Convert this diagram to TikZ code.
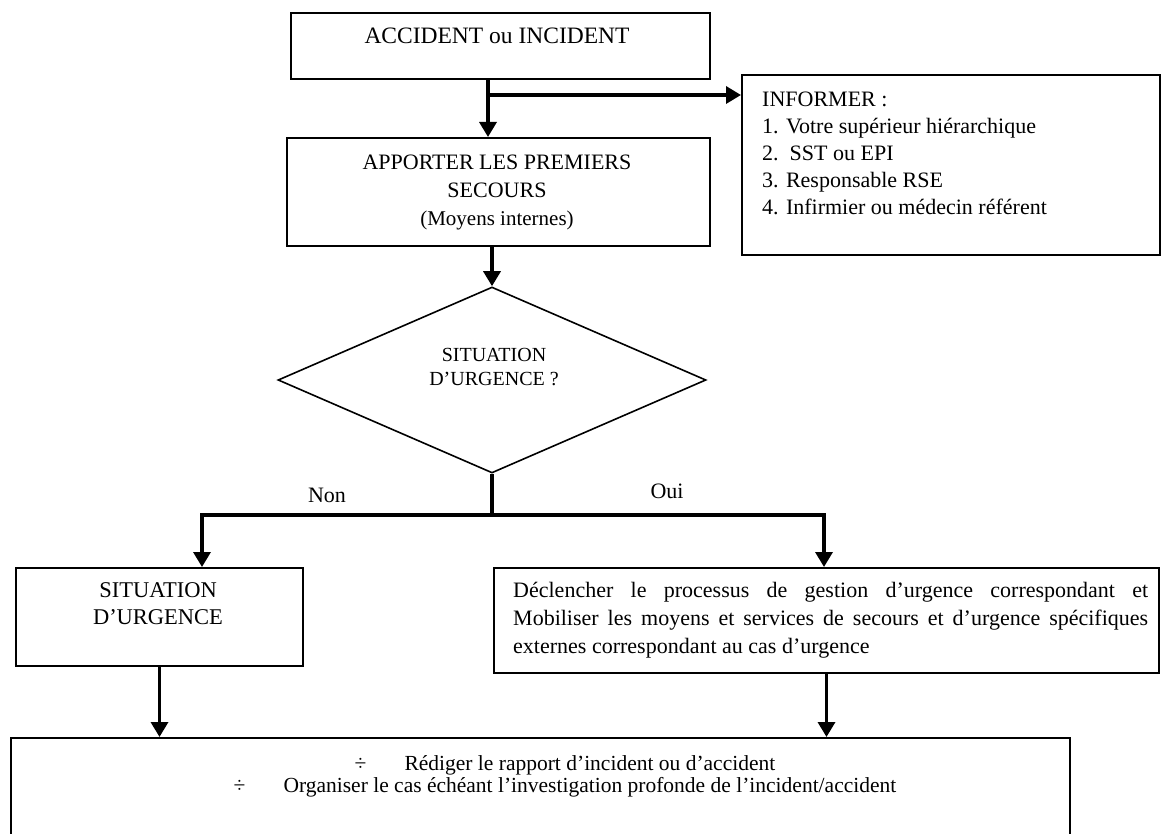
\documentclass[tikz,border=0pt]{standalone}
\usepackage{fontspec}
\setmainfont{Liberation Serif}
\usetikzlibrary{shapes.geometric,arrows.meta,positioning}

\begin{document}
\begin{tikzpicture}[
        x=1pt, y=-1pt,
        every node/.style={font=\fontsize{22}{28}\selectfont, inner sep=0pt},
        frame/.style={draw=black, line width=2pt, anchor=north west},
        diam/.style={diamond, draw=black, line width=1.6pt},
        link/.style={draw, line width=3.4pt, -{Triangle[length=15pt, width=17pt]}},
        bare/.style={draw, line width=3.4pt}
    ]
        \useasboundingbox (0,0) rectangle (1161,834);
        \clip (0,0) rectangle (1161,834);

        \node[frame, minimum width=419pt, minimum height=66pt] (acc) at (290,12) {};
        \node[font=\fontsize{23.5}{28}\selectfont] (acctxt) at (497,36) {ACCIDENT ou INCIDENT};

        \node[frame, minimum width=418pt, minimum height=180pt] (inform) at (741,74) {};
        \node[anchor=west, align=left, font=\fontsize{22}{27}\selectfont] (informtxt) at (762,153) {INFORMER :\\1. Votre supérieur hiérarchique\\2.\ \ SST ou EPI\\3. Responsable RSE\\4. Infirmier ou médecin référent};

        \node[frame, minimum width=423pt, minimum height=108pt] (prem) at (286,137) {};
        \node[align=center] (premtxt) at (497,192) {APPORTER LES PREMIERS\\SECOURS\\{\fontsize{21}{28}\selectfont(Moyens internes)}};

        \node[diam, minimum width=428pt, minimum height=186pt] (sitq) at (492,380) {};
        \node[align=center, font=\fontsize{20}{24}\selectfont] (sitqtxt) at (494,367) {SITUATION\\D’URGENCE ?};

        \node (non) at (327,495) {Non};
        \node (oui) at (667,491) {Oui};

        \node[frame, minimum width=287pt, minimum height=98pt] (sit) at (15,567) {};
        \node[align=center, font=\fontsize{22.5}{27}\selectfont] (sittxt) at (158,604) {SITUATION\\D’URGENCE};

        \node[frame, minimum width=665pt, minimum height=105pt] (dec) at (493,567) {};
        \node[anchor=west, text width=635pt, align=justify] (dectxt) at (513,620) {Déclencher le processus de gestion d’urgence correspondant et\linebreak Mobiliser les moyens et services de secours et d’urgence spécifiques\linebreak externes correspondant au cas d’urgence};

        \node[frame, minimum width=1059pt, minimum height=120pt] (fin) at (10,737) {};
        \node[align=center, font=\fontsize{21.5}{22}\selectfont] (fintxt) at (565,776) {÷\hspace{38pt}Rédiger le rapport d’incident ou d’accident\\÷\hspace{38pt}Organiser le cas échéant l’investigation profonde de l’incident/accident};

        \coordinate (fork) at (488,95);
        \coordinate (split) at (492,515);
        \coordinate (nonturn) at (202,515);
        \coordinate (ouiturn) at (824,515);

        \draw[link] (acc.south -| fork) -- (prem.north -| fork);
        \draw[link] (fork) -- (fork -| inform.west);
        \draw[link] (sitq.north |- prem.south) -- (sitq.north);
        \draw[bare] (sitq.south) -- (split);
        \draw[link] (split) -- (nonturn) -- (nonturn |- sit.north);
        \draw[link] (split) -- (ouiturn) -- (ouiturn |- dec.north);
        \draw[link] (sit.south) -- (sit.south |- fin.north);
        \draw[link] (dec.south) -- (dec.south |- fin.north);
\end{tikzpicture}
\end{document}
